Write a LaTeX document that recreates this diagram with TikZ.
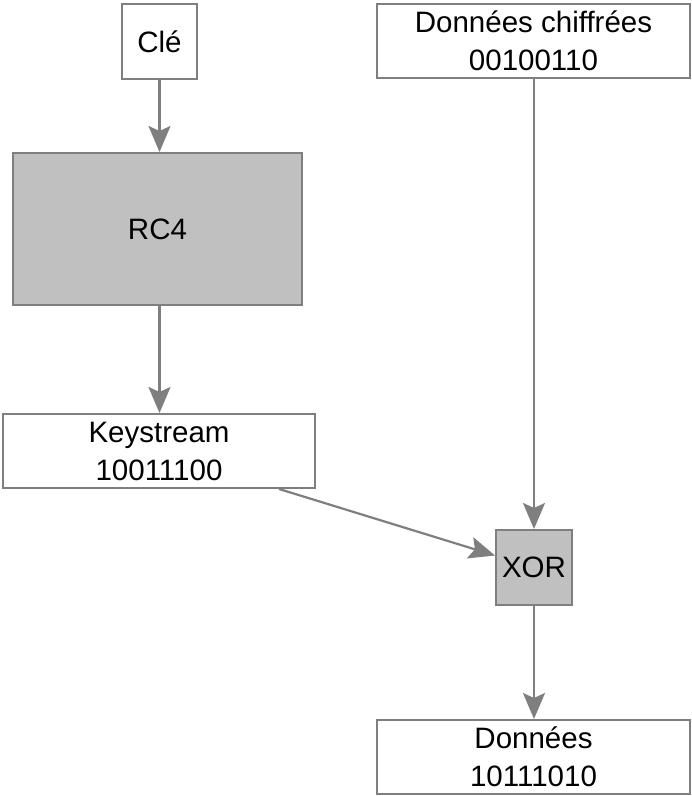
\documentclass[tikz,border=0pt]{standalone}
\usepackage{fontspec}
\setmainfont{Liberation Sans}
\usetikzlibrary{arrows.meta,calc}
\definecolor{edgegray}{HTML}{7F7F7F}
\definecolor{boxgray}{HTML}{C0C0C0}
\begin{document}
\begin{tikzpicture}[x=1pt,y=-1pt,
  every node/.style={font=\fontsize{29.5}{38}\selectfont},
  box/.style={draw=edgegray,line width=2pt,fill=white,inner sep=0pt,align=center},
  graybox/.style={box,fill=boxgray},
  conn/.style={draw=edgegray,line width=2.2pt,-{Stealth[length=26pt,width=22pt,inset=5pt]}}]
\useasboundingbox (0,0) rectangle (692,796);
\node[box,minimum width=75pt,minimum height=75pt] (cle) at (159.5,41.5) {Clé};
\node[box,minimum width=313pt,minimum height=74pt] (dc) at (533.5,41) {Données chiffrées\\00100110};
\node[graybox,minimum width=289pt,minimum height=152pt] (rc4) at (157.5,229) {RC4};
\node[box,minimum width=312pt,minimum height=74pt] (ks) at (159,451) {Keystream\\10011100};
\node[graybox,minimum width=76pt,minimum height=75pt] (xor) at (534,567.5) {XOR};
\node[box,minimum width=313pt,minimum height=74pt] (don) at (533.5,757) {Données\\10111010};
\coordinate (ksout) at ($(ks.south east)+(-37,0)$);
\coordinate (xorin) at ($(xor.west)+(0,-12)$);
\draw[conn] (cle.south) -- (cle.south |- rc4.north);
\draw[conn] (rc4.south -| cle.south) -- (cle.south |- ks.north);
\draw[conn] (dc.south -| xor.north) -- (xor.north);
\draw[conn] (ksout) -- (xorin);
\draw[conn] (xor.south) -- (xor.south |- don.north);
\end{tikzpicture}
\end{document}
